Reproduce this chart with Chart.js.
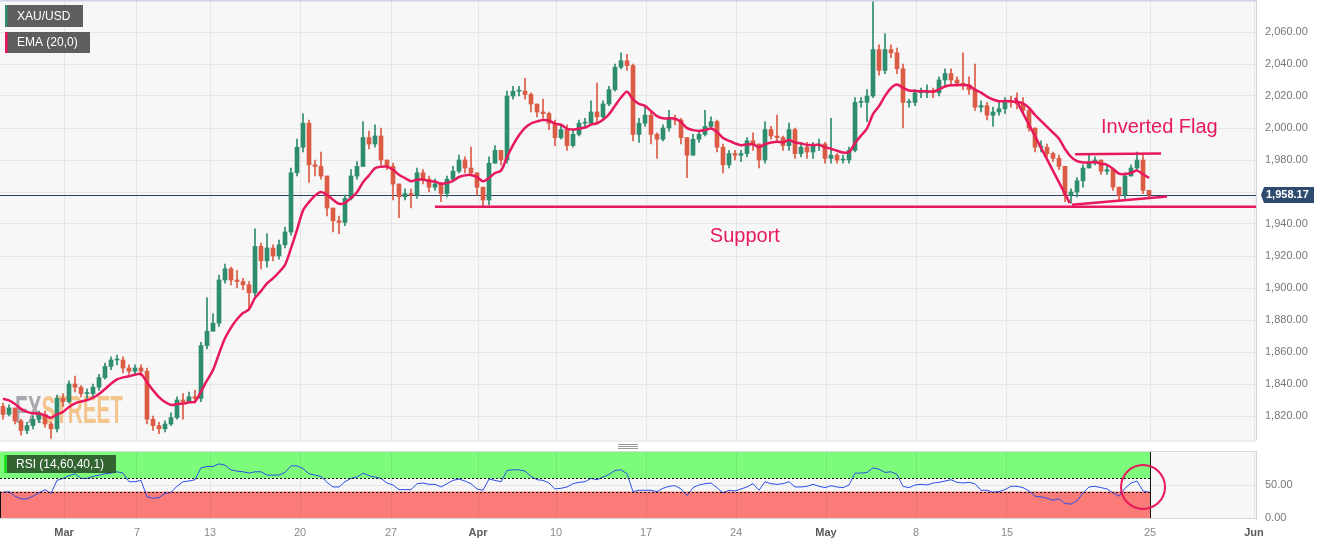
<!DOCTYPE html>
<html><head><meta charset="utf-8">
<script src="https://cdn.jsdelivr.net/npm/chart.js@4.4.1/dist/chart.umd.min.js"></script>
<style>
html,body{margin:0;padding:0;background:#fff;}
#wrap{position:relative;width:1328px;height:545px;overflow:hidden;background:#fff;}
.box{position:absolute;left:0;width:1328px;}
</style></head><body>
<div id="wrap">
  <div class="box" style="top:0;height:440px"><canvas id="main"></canvas></div>
  <div class="box" style="top:440px;height:105px"><canvas id="rsi"></canvas></div>
</div>
<script>
// ---------- DATA (8-hour candles) ----------
const FIRST_OPEN = 1826;
const CLOSES = [1821,1825,1817,1811,1814,1818,1821,1815,1812,1831,
1829,1840,1838,1834,1834,1838,1844,1851,1855,1855,
1850,1848,1850,1848,1818,1814,1812,1815,1819,1830,
1829,1832,1831,1864,1873,1878,1905,1912,1905,1904,
1902,1897,1926,1917,1925,1920,1927,1935,1972,1988,
2003,1977,1976,1970,1950,1942,1941,1956,1970,1976,
1994,1990,1995,1980,1976,1965,1957,1959,1958,1972,
1968,1963,1965,1959,1968,1973,1980,1975,1972,1963,
1955,1978,1986,1980,2020,2023,2023,2021,2015,2010,
2009,2003,1994,1999,1989,1996,2003,2003,2010,2007,
2015,2024,2038,2042,2039,1996,2003,2008,1996,1993,
2000,2006,2005,1994,1983,1993,1996,2001,2004,1988,
1977,1984,1983,1984,1992,1990,1980,1999,1995,1994,
1989,1999,1984,1988,1985,1989,1990,1981,1983,1980,
1980,1986,2016,2016,2020,2049,2036,2049,2047,2037,
2016,2016,2022,2022,2023,2022,2030,2034,2030,2028,
2027,2024,2013,2014,2008,2010,2012,2017,2016,2015,
2011,2000,1988,1988,1984,1981,1976,1958,1960,1967,
1975,1978,1980,1973,1974,1963,1958,1970,1975,1980,
1961,1958.17];
const HIGHS = [1828,1827,1825,1818,1816,1820,1823,1823,1816,1833,
1834,1842,1845,1839,1837,1840,1846,1853,1857,1858,
1857,1852,1852,1852,1850,1820,1816,1817,1822,1832,
1834,1835,1836,1866,1894,1884,1908,1915,1913,1911,
1906,1904,1937,1928,1934,1927,1930,1938,1975,1993,
2009,2005,1980,1985,1968,1950,1945,1958,1974,1979,
2004,1998,2002,2000,1980,1978,1962,1962,1962,1975,
1974,1970,1968,1966,1970,1976,1983,1982,1988,1972,
1960,1982,1989,1986,2023,2026,2026,2031,2022,2015,
2018,2010,2005,2002,2002,1999,2005,2006,2017,2028,
2017,2026,2040,2047,2046,2040,2006,2014,2011,1997,
2002,2011,2008,2006,1992,1996,1998,2011,2007,2005,
1990,1986,1986,1986,1994,1997,1990,2004,2001,2008,
1995,2003,2000,1991,1991,1991,1993,1991,2006,1984,
1983,1988,2019,2019,2024,2079,2052,2059,2052,2050,
2040,2018,2024,2025,2027,2025,2032,2037,2037,2032,
2047,2032,2040,2017,2016,2013,2017,2019,2020,2022,
2019,2012,2000,1992,1990,1985,1983,1976,1962,1969,
1977,1983,1982,1980,1976,1975,1963,1972,1977,1985,
1983,1961];
const LOWS = [1818,1820,1815,1808,1809,1812,1816,1813,1806,1810,
1826,1828,1835,1832,1831,1832,1836,1843,1849,1852,
1847,1846,1846,1845,1815,1811,1809,1810,1814,1818,
1818,1828,1828,1829,1862,1874,1876,1903,1902,1900,
1899,1886,1895,1912,1913,1917,1918,1925,1933,1970,
1985,1966,1970,1968,1945,1935,1934,1939,1955,1968,
1976,1987,1988,1977,1974,1955,1944,1955,1950,1956,
1965,1960,1961,1954,1957,1967,1972,1972,1970,1958,
1951,1952,1979,1977,1978,2018,2020,2018,2010,2007,
2006,1999,1989,1993,1986,1988,1995,2000,2002,2004,
2005,2014,2023,2037,2036,1992,1991,2001,1990,1981,
1992,1998,2002,1990,1969,1983,1991,1995,2000,1985,
1972,1975,1980,1979,1982,1986,1975,1978,1993,1991,
1986,1986,1981,1982,1981,1981,1986,1978,1978,1978,
1978,1978,1985,2013,2004,2019,2033,2034,2044,2034,
2000,2013,2014,2019,2019,2019,2020,2026,2027,2026,
2024,2021,2011,2010,2005,2001,2008,2009,2013,2012,
2009,1998,1985,1985,1982,1979,1974,1954,1953,1957,
1963,1975,1977,1971,1971,1961,1955,1956,1972,1974,
1959,1957];
const RSI_VALUES = [39,40,33,29,29,33,38,43,37,57,
60,64,67,60,60,63,65,67,68,70,
68,55,55,57,32,30,31,37,39,48,
55,56,58,76,78,78,82,80,73,71,
70,68,70,70,65,65,65,69,79,79,
75,67,65,63,54,47,47,55,60,62,
68,64,62,60,53,50,43,43,43,52,
53,51,51,47,52,57,59,56,52,44,
42,59,57,55,72,73,73,71,63,58,
57,53,44,45,47,52,54,55,60,58,
62,66,72,73,67,40,42,42,42,40,
45,48,49,44,34,46,50,52,53,46,
38,42,41,44,47,52,42,55,52,51,
52,55,47,47,48,51,48,46,49,47,
46,50,68,68,69,76,74,69,70,66,
48,46,50,51,50,53,54,56,58,54,
53,54,52,42,42,39,40,43,48,48,
46,41,33,32,30,27,29,22,21,26,
38,47,48,46,44,38,33,45,53,56,
41,39];
const EMA_SEED = 1833;       // EMA value at the left edge of the picture
const EMA_PERIOD = 10;       // EMA(20) of 4h bars ~ 10 of these 8h bars
const PRICE_TICKS = [1820,1840,1860,1880,1900,1920,1940,1960,1980,2000,2020,2040,2060];
const RSI_TICKS = [0,50];
const TICK_LABELS = ['Mar','7','13','20','27','Apr','10','17','24','May','8','15','25','Jun'];
const TICK_POS = [10.17,22.33,34.5,49.5,64.67,79.17,92.17,107.17,122.17,137.17,152.17,167.33,191.17,208.5];
const MONTHS = ['Mar','Apr','May','Jun'];
const RSI_UPPER = 60, RSI_LOWER = 40, RSI_TOP = 100, RSI_BOTTOM = 0;
// annotations in data units [candle index, price]
const SUPPORT_LINE = [[72,1950.8],[208.83,1950.8]];
const POLE_LINE = [[168.67,2018.8],[177.8,1953]];
const FLAG_UPPER = [[178.67,1983.6],[193,1984]];
const FLAG_LOWER = [[178.17,1952],[194,1957.2]];
const TEXT_NOTES = [{text:'Inverted Flag', x:183, y:2000.6},{text:'Support', x:117.8, y:1932}];
const RSI_CIRCLE = {x:190, y:47};

// ---------- build ----------
const FONT = '"Liberation Sans", Arial, sans-serif';
const UP = '#2e8c6f', DOWN = '#db5b44', CRIMSON = '#e8185d';
const X_MIN = -0.5, X_MAX = 208.83;
const LAST = CLOSES.length - 1;
const END_X = LAST + 0.17;
const opens = CLOSES.map((c,i)=> i===0 ? FIRST_OPEN : CLOSES[i-1]);
const isUp = i => CLOSES[i] >= opens[i];
const wickData = CLOSES.map((c,i)=>({x:i, y:[Math.min(LOWS[i],opens[i],c), Math.max(HIGHS[i],opens[i],c)]}));
const bodyData = CLOSES.map((c,i)=>({x:i, y:[opens[i], c]}));
const emaData = []; { let e = EMA_SEED; const a = 2/(EMA_PERIOD+1);
  CLOSES.forEach((c,i)=>{ e += a*(c-e); emaData.push({x:i, y:e}); }); }
const rsiData = RSI_VALUES.map((v,i)=>({x:i, y:v}));
const pts = arr => arr.map(p=>({x:p[0], y:p[1]}));

function fmt(v){ const s = v.toFixed(2).split('.'); return s[0].replace(/\B(?=(\d{3})+(?!\d))/g, ',') + '.' + s[1]; }

function xScale(showLabels, gridColor){
  return { type:'linear', min:X_MIN, max:X_MAX, offset:false,
    afterBuildTicks: ax => { ax.ticks = TICK_POS.map(v=>({value:v})); },
    ticks: { display:showLabels, autoSkip:false, maxRotation:0, minRotation:0, padding:7,
      callback: (v,i) => TICK_LABELS[i],
      font: ctx => ({family:FONT, size:11, weight: MONTHS.includes(TICK_LABELS[ctx.index]) ? 'bold' : 'normal'}),
      color: ctx => MONTHS.includes(TICK_LABELS[ctx.index]) ? '#5a5a5a' : '#8a8a8a' },
    grid: { color:gridColor, drawTicks:false, offset:false },
    border: { display:false },
    afterFit: ax => { ax.height = showLabels ? 26 : 0; ax.paddingLeft = 0; ax.paddingRight = 0; } };
}
function yScale(min, max, ticks){
  return { type:'linear', position:'right', min, max,
    afterBuildTicks: ax => { ax.ticks = ticks.map(v=>({value:v})); },
    ticks:{ padding:9, color:'#777', font:{family:FONT, size:11}, callback: v => fmt(v) },
    grid:{ color:'#e6e6e6', drawTicks:false },
    border:{ display:true, color:'#d3d6df' },
    afterFit: ax => { ax.width = 72; ax.paddingTop = 0; ax.paddingBottom = 0; } };
}

const lineDS = (data, color, width, order) => ({ type:'line', data, borderColor:color, borderWidth:width,
  pointRadius:0, fill:false, order, tension:0 });

const mainDecor = {
  id:'mainDecor',
  beforeDraw(chart){
    const {ctx, chartArea:a} = chart;
    ctx.save();
    ctx.fillStyle = '#ffffff'; ctx.fillRect(0,0,chart.width,chart.height);
    ctx.fillStyle = '#f7f7f7'; ctx.fillRect(a.left,a.top,a.right-a.left,a.bottom-a.top);
    ctx.restore();
  },
  beforeDatasetsDraw(chart){
    const {ctx, chartArea:a, scales} = chart;
    ctx.save();
    ctx.globalAlpha = 0.75;
    ctx.font = 'bold 38px ' + FONT;
    const wFX = ctx.measureText('FX').width, wAll = ctx.measureText('FXSTREET').width;
    const sx = 108 / wAll;
    ctx.translate(15, 423); ctx.scale(sx, 1);
    ctx.textBaseline = 'alphabetic';
    ctx.fillStyle = '#8d8d95'; ctx.fillText('FX', 0, 0);
    ctx.fillStyle = '#f3b46a'; ctx.fillText('STREET', wFX, 0);
    ctx.restore();
    ctx.save();
    const y = Math.round(scales.y.getPixelForValue(CLOSES[LAST])) + 0.5;
    ctx.strokeStyle = '#2b3f63'; ctx.lineWidth = 1;
    ctx.beginPath(); ctx.moveTo(a.left,y); ctx.lineTo(a.right,y); ctx.stroke();
    ctx.restore();
  },
  afterDatasetsDraw(chart){
    const {ctx, scales} = chart;
    ctx.save();
    ctx.font = '20px ' + FONT; ctx.fillStyle = CRIMSON; ctx.textBaseline = 'middle'; ctx.textAlign = 'left';
    TEXT_NOTES.forEach(n => ctx.fillText(n.text, scales.x.getPixelForValue(n.x), scales.y.getPixelForValue(n.y)));
    ctx.restore();
  },
  afterDraw(chart){
    const {ctx, chartArea:a, scales} = chart;
    ctx.save();
    ctx.fillStyle = '#cdd2e6'; ctx.fillRect(0,0,a.right,1.5);
    const box = (x,y,w,h,stripe,text) => {
      ctx.fillStyle = 'rgba(80,80,80,0.92)'; ctx.fillRect(x,y,w,h);
      ctx.fillStyle = stripe; ctx.fillRect(x,y,2.5,h);
      ctx.fillStyle = '#ffffff'; ctx.font = '12px ' + FONT; ctx.textBaseline = 'middle';
      ctx.fillText(text, x+12, y+h/2+0.5);
    };
    box(5,5,78,22,UP,'XAU/USD');
    box(5,32,85,21,CRIMSON,'EMA (20,0)');
    const y = scales.y.getPixelForValue(CLOSES[LAST]);
    const x0 = a.right + 5, bx = a.right + 8, bw = 50, bh = 16;
    ctx.fillStyle = '#2d4a6f';
    ctx.beginPath(); ctx.moveTo(x0, y); ctx.lineTo(bx, y-bh/2); ctx.lineTo(bx+bw, y-bh/2);
    ctx.lineTo(bx+bw, y+bh/2); ctx.lineTo(bx, y+bh/2); ctx.closePath(); ctx.fill();
    ctx.fillStyle = '#ffffff'; ctx.font = 'bold 11px ' + FONT; ctx.textBaseline = 'middle'; ctx.textAlign='left';
    ctx.fillText(fmt(CLOSES[LAST]), bx+2, y+0.5);
    ctx.restore();
  }
};

new Chart(document.getElementById('main'), {
  type:'bar',
  data:{ datasets:[
    lineDS(pts(SUPPORT_LINE), CRIMSON, 2.5, 0),
    lineDS(pts(POLE_LINE), CRIMSON, 2.5, 0),
    lineDS(pts(FLAG_UPPER), CRIMSON, 2.5, 0),
    lineDS(pts(FLAG_LOWER), CRIMSON, 2.5, 0),
    Object.assign(lineDS(emaData, CRIMSON, 2.5, 1), {tension:0.3}),
    { type:'bar', data:bodyData, order:2, barThickness:4, minBarLength:1, grouped:false, borderWidth:0,
      backgroundColor: ctx => isUp(ctx.dataIndex) ? UP : DOWN },
    { type:'bar', data:wickData, order:3, barThickness:1, grouped:false, borderWidth:0,
      backgroundColor: ctx => isUp(ctx.dataIndex) ? UP : DOWN }
  ]},
  options:{
    responsive:true, maintainAspectRatio:false, animation:false, events:[],
    layout:{ padding:0 },
    plugins:{ legend:{display:false}, tooltip:{enabled:false} },
    scales:{ x: xScale(false, '#e6e6e6'), y: yScale(1805, 2080, PRICE_TICKS) }
  },
  plugins:[mainDecor]
});

const rsiDecor = {
  id:'rsiDecor',
  beforeDraw(chart){
    const {ctx, chartArea:a, scales} = chart;
    const xs = scales.x, ys = scales.y;
    ctx.save();
    ctx.fillStyle = '#ffffff'; ctx.fillRect(0,0,chart.width,chart.height);
    ctx.fillStyle = '#f7f7f7'; ctx.fillRect(a.left,a.top,a.right-a.left,a.bottom-a.top);
    const ex = xs.getPixelForValue(END_X);
    ctx.fillStyle = '#7dfc7b';
    ctx.fillRect(a.left, ys.getPixelForValue(RSI_TOP), ex-a.left, ys.getPixelForValue(RSI_UPPER)-ys.getPixelForValue(RSI_TOP));
    ctx.fillStyle = '#fa7b78';
    ctx.fillRect(a.left, ys.getPixelForValue(RSI_LOWER), ex-a.left, ys.getPixelForValue(RSI_BOTTOM)-ys.getPixelForValue(RSI_LOWER));
    ctx.fillStyle = '#dcdcdc'; ctx.fillRect(0,0.5,a.right,1);
    ctx.fillStyle = '#9a9a9a';
    [4,6,8].forEach(yy => ctx.fillRect(618, yy, 20, 1));
    ctx.restore();
  },
  afterDatasetsDraw(chart){
    const {ctx, chartArea:a, scales} = chart;
    const xs = scales.x, ys = scales.y;
    const ex = xs.getPixelForValue(END_X);
    ctx.save();
    ctx.strokeStyle = '#111'; ctx.lineWidth = 1; ctx.setLineDash([2,2]);
    [RSI_UPPER, RSI_LOWER].forEach(v => { const y = Math.round(ys.getPixelForValue(v)) + 0.5;
      ctx.beginPath(); ctx.moveTo(a.left,y); ctx.lineTo(ex,y); ctx.stroke(); });
    ctx.setLineDash([]);
    ctx.beginPath(); ctx.moveTo(Math.round(ex)+0.5, ys.getPixelForValue(RSI_TOP)); ctx.lineTo(Math.round(ex)+0.5, ys.getPixelForValue(RSI_BOTTOM)); ctx.stroke();
    ctx.beginPath(); ctx.moveTo(a.left+0.5, ys.getPixelForValue(RSI_LOWER)); ctx.lineTo(a.left+0.5, ys.getPixelForValue(RSI_BOTTOM)); ctx.stroke();
    ctx.strokeStyle = CRIMSON; ctx.lineWidth = 2;
    ctx.beginPath(); ctx.arc(xs.getPixelForValue(RSI_CIRCLE.x), ys.getPixelForValue(RSI_CIRCLE.y), 22, 0, Math.PI*2); ctx.stroke();
    ctx.fillStyle = 'rgba(40,80,40,0.88)'; ctx.fillRect(4, a.top+4, 112, 18);
    ctx.fillStyle = '#22dd22'; ctx.fillRect(4, a.top+4, 3, 18);
    ctx.fillStyle = '#ffffff'; ctx.font = '12px ' + FONT; ctx.textBaseline = 'middle';
    ctx.fillText('RSI (14,60,40,1)', 16, a.top+13.5);
    ctx.fillStyle = '#d8d8d8';
    ctx.fillRect(a.left, a.top, a.right-a.left, 1);
    ctx.fillRect(a.left, a.bottom-1, a.right-a.left, 1);
    ctx.restore();
  }
};

new Chart(document.getElementById('rsi'), {
  type:'line',
  data:{ datasets:[ { data:rsiData, borderColor:'#2e4fe6', borderWidth:1, pointRadius:0, fill:false, tension:0 } ]},
  options:{
    responsive:true, maintainAspectRatio:false, animation:false, events:[],
    layout:{ padding:{ top:11, left:0, right:0, bottom:0 } },
    plugins:{ legend:{display:false}, tooltip:{enabled:false} },
    scales:{ x: xScale(true, 'rgba(0,0,0,0.07)'), y: yScale(-1.5, 101.5, RSI_TICKS) }
  },
  plugins:[rsiDecor]
});
</script>
</body></html>
